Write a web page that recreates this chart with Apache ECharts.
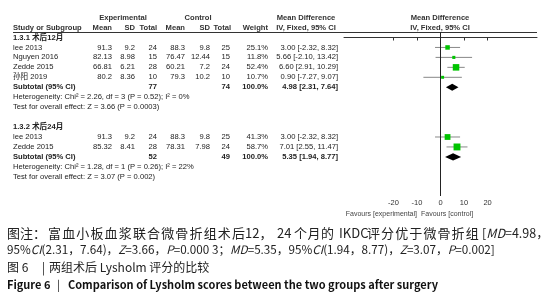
<!DOCTYPE html>
<html>
<head>
<meta charset="utf-8">
<script src="https://cdn.jsdelivr.net/npm/echarts@6/dist/echarts.min.js"></script>
<style>
  html, body { margin: 0; padding: 0; background: #fff; }
  #main { width: 548px; height: 300px; }
</style>
</head>
<body>
<div id="main"></div>
<script>
  // 1.3.1 术后12月
  const studies12 = ['lee 2013', 'Nguyen 2016', 'Zedde 2015', '孙阳 2019'];
  const expMean12 = [91.3, 82.13, 66.81, 80.2];
  const expSD12 = [9.2, 8.98, 6.21, 8.36];
  const expN12 = [24, 15, 28, 10];
  const ctlMean12 = [88.3, 76.47, 60.21, 79.3];
  const ctlSD12 = [9.8, 12.44, 7.2, 10.2];
  const ctlN12 = [25, 15, 24, 10];
  const weight12 = [25.1, 11.8, 52.4, 10.7];
  const md12 = [3.00, 5.66, 6.60, 0.90];
  const lo12 = [-2.32, -2.10, 2.91, -7.27];
  const hi12 = [8.32, 13.42, 10.29, 9.07];
  const total12 = [77, 74];
  const sub12 = [4.98, 2.31, 7.64];

  // 1.3.2 术后24月
  const studies24 = ['lee 2013', 'Zedde 2015'];
  const expMean24 = [91.3, 85.32];
  const expSD24 = [9.2, 8.41];
  const expN24 = [24, 28];
  const ctlMean24 = [88.3, 78.31];
  const ctlSD24 = [9.8, 7.98];
  const ctlN24 = [25, 24];
  const weight24 = [41.3, 58.7];
  const md24 = [3.00, 7.01];
  const lo24 = [-2.32, 2.55];
  const hi24 = [8.32, 11.47];
  const total24 = [52, 49];
  const sub24 = [5.35, 1.94, 8.77];

  const xTicks = [-20, -10, 0, 10, 20];

  let chart = echarts.init(document.getElementById('main'));

  const FONT = '7.6px "Liberation Sans", Arial, "Noto Sans CJK SC", sans-serif';
  const BOLD = 'bold ' + FONT;
  const CAP = '13px "Noto Sans CJK SC", sans-serif';
  const CAP2 = '11.7px "Noto Sans CJK SC", sans-serif';
  const CAP3 = '12px "Noto Sans CJK SC", sans-serif';
  const FIG = '11px "Noto Sans CJK SC", sans-serif';

  // rows: 0 title, 1-4 studies, 5 subtotal, 6-7 notes, 9 title, 10-11 studies, 12 subtotal, 13-14 notes
  let studyData = [];
  md12.forEach((m, i) => studyData.push([1 + i, m, lo12[i], hi12[i], 0.9 * Math.sqrt(weight12[i])]));
  md24.forEach((m, i) => studyData.push([10 + i, m, lo24[i], hi24[i], 0.9 * Math.sqrt(weight24[i])]));
  let diamondData = [[5].concat(sub12), [12].concat(sub24)];

  chart.setOption({
    animation: false,
    grid: { left: 344, right: 11, top: 32, bottom: 104 },
    xAxis: {
      type: 'value',
      min: -41,
      max: 41,
      splitLine: { show: false },
      axisLine: { lineStyle: { color: '#333', width: 1 } },
      axisTick: { customValues: xTicks, length: 3, lineStyle: { color: '#333' } },
      axisLabel: { customValues: xTicks, fontSize: 7.5, color: '#333', margin: 3, fontFamily: '"Liberation Sans", Arial' }
    },
    yAxis: {
      type: 'value',
      inverse: true,
      min: -0.553,
      max: 15.93,
      show: false
    },
    series: [{
      type: 'custom',
      clip: false,
      data: studyData,
      renderItem: function (params, api) {
        let row = api.value(0);
        let p = api.coord([api.value(1), row]);
        let pl = api.coord([api.value(2), row]);
        let ph = api.coord([api.value(3), row]);
        let sz = api.value(4);
        return {
          type: 'group',
          children: [
            { type: 'line', shape: { x1: pl[0], y1: p[1], x2: ph[0], y2: p[1] }, style: { stroke: '#888', lineWidth: 1 } },
            { type: 'rect', shape: { x: p[0] - sz / 2, y: p[1] - sz / 2, width: sz, height: sz }, style: { fill: '#00c400' } }
          ]
        };
      },
      markLine: {
        silent: true,
        symbol: 'none',
        label: { show: false },
        lineStyle: { color: '#222', width: 1, type: 'solid' },
        data: [{ xAxis: 0 }]
      }
    }, {
      type: 'custom',
      clip: false,
      data: diamondData,
      renderItem: function (params, api) {
        let row = api.value(0);
        let a = api.coord([api.value(2), row]);
        let b = api.coord([api.value(1), row - 0.36]);
        let c = api.coord([api.value(3), row]);
        let d = api.coord([api.value(1), row + 0.36]);
        return { type: 'polygon', shape: { points: [a, b, c, d] }, style: { fill: '#000' } };
      }
    }]
  });

  function yOf(r) {
    return chart.convertToPixel({ yAxisIndex: 0 }, r);
  }
  function txt(x, y, s, align, font, fill) {
    return {
      type: 'text', x: x, y: y, silent: true,
      style: { text: s, font: font || FONT, fill: fill || '#222', textAlign: align || 'left', textVerticalAlign: 'middle' }
    };
  }
  function ci(m, l, h) {
    return m.toFixed(2) + ' [' + l.toFixed(2) + ', ' + h.toFixed(2) + ']';
  }

  let els = [];
  // header
  els.push(txt(123, 18, 'Experimental', 'center', BOLD, '#333'));
  els.push(txt(198, 18, 'Control', 'center', BOLD, '#333'));
  els.push(txt(306, 18, 'Mean Difference', 'center', BOLD, '#333'));
  els.push(txt(306, 28, 'IV, Fixed, 95% CI', 'center', BOLD, '#333'));
  els.push(txt(440, 18, 'Mean Difference', 'center', BOLD, '#333'));
  els.push(txt(440, 28, 'IV, Fixed, 95% CI', 'center', BOLD, '#333'));
  els.push(txt(13, 28, 'Study or Subgroup', 'left', BOLD, '#333'));
  [[112, 'Mean'], [135, 'SD'], [157, 'Total'], [185, 'Mean'], [210, 'SD'], [231, 'Total'], [268, 'Weight']].forEach(h => {
    els.push(txt(h[0], 28, h[1], 'right', BOLD, '#333'));
  });
  els.push({ type: 'line', silent: true, shape: { x1: 13, y1: 32.5, x2: 537, y2: 32.5 }, style: { stroke: '#333', lineWidth: 1 } });

  function studyRow(r, name, em, es, en, cm, cs, cn, w, m, l, h) {
    let y = yOf(r);
    els.push(txt(13, y, name));
    els.push(txt(112, y, String(em), 'right'));
    els.push(txt(135, y, String(es), 'right'));
    els.push(txt(157, y, String(en), 'right'));
    els.push(txt(185, y, String(cm), 'right'));
    els.push(txt(210, y, String(cs), 'right'));
    els.push(txt(230, y, String(cn), 'right'));
    els.push(txt(268, y, w.toFixed(1) + '%', 'right'));
    els.push(txt(338, y, ci(m, l, h), 'right'));
  }
  function subRow(r, tot, sub) {
    let y = yOf(r);
    els.push(txt(13, y, 'Subtotal (95% CI)', 'left', BOLD));
    els.push(txt(157, y, String(tot[0]), 'right', BOLD));
    els.push(txt(230, y, String(tot[1]), 'right', BOLD));
    els.push(txt(268, y, '100.0%', 'right', BOLD));
    els.push(txt(338, y, ci(sub[0], sub[1], sub[2]), 'right', BOLD));
  }

  els.push(txt(13, yOf(0), '1.3.1 术后12月', 'left', BOLD));
  studies12.forEach((s, i) => studyRow(1 + i, s, expMean12[i], expSD12[i], expN12[i], ctlMean12[i], ctlSD12[i], ctlN12[i], weight12[i], md12[i], lo12[i], hi12[i]));
  subRow(5, total12, sub12);
  els.push(txt(13, yOf(6), 'Heterogeneity: Chi² = 2.26, df = 3 (P = 0.52); I² = 0%'));
  els.push(txt(13, yOf(7), 'Test for overall effect: Z = 3.66 (P = 0.0003)'));

  els.push(txt(13, yOf(9), '1.3.2 术后24月', 'left', BOLD));
  studies24.forEach((s, i) => studyRow(10 + i, s, expMean24[i], expSD24[i], expN24[i], ctlMean24[i], ctlSD24[i], ctlN24[i], weight24[i], md24[i], lo24[i], hi24[i]));
  subRow(12, total24, sub24);
  els.push(txt(13, yOf(13), 'Heterogeneity: Chi² = 1.28, df = 1 (P = 0.26); I² = 22%'));
  els.push(txt(13, yOf(14), 'Test for overall effect: Z = 3.07 (P = 0.002)'));

  els.push(txt(417, 214, 'Favours [experimental]', 'right', '7px "Liberation Sans", Arial', '#444'));
  els.push(txt(421, 214, 'Favours [control]', 'left', '7px "Liberation Sans", Arial', '#444'));

  // caption
  function spread(x0, y, s, pitch) {
    for (let k = 0; k < s.length; k++) els.push(txt(x0 + k * pitch, y, s[k], 'left', CAP, '#222'));
  }
  const capY = [233, 250, 267, 285];
  els.push(txt(7, capY[0], '图注：', 'left', CAP, '#222'));
  spread(48, capY[0], '富血小板血浆联合微骨折组术后', 14.15);
  els.push(txt(245, capY[0], '12，', 'left', CAP, '#222'));
  els.push(txt(277, capY[0], '24', 'left', CAP, '#222'));
  spread(294, capY[0], '个月的', 13.5);
  els.push(txt(339, capY[0], 'IKDC', 'left', CAP, '#222'));
  spread(367, capY[0], '评分优于微骨折组', 14.1);
  els.push({
    type: 'text', x: 482, y: capY[0], silent: true,
    style: {
      text: '[{i|MD}=4.98，', font: '12.5px "Noto Sans CJK SC", sans-serif', fill: '#222', textVerticalAlign: 'middle',
      rich: { i: { font: 'italic 12.5px "Noto Sans CJK SC", sans-serif', fill: '#222' } }
    }
  });
  els.push({
    type: 'text', x: 7, y: capY[1], silent: true,
    style: {
      text: '95%{i|CI}(2.31，7.64)，{i|Z}=3.66，{i|P}=0.000 3；{i|MD}=5.35，95%{i|CI}(1.94，8.77)，{i|Z}=3.07，{i|P}=0.002]',
      font: CAP2, fill: '#222', textVerticalAlign: 'middle',
      rich: { i: { font: 'italic ' + CAP2, fill: '#222' } }
    }
  });
  els.push(txt(7, capY[2], '图 6', 'left', CAP3, '#222'));
  els.push(txt(42, capY[2], '|', 'left', CAP3, '#222'));
  els.push(txt(49, capY[2], '两组术后 Lysholm 评分的比较', 'left', CAP3, '#222'));
  els.push(txt(7, capY[3], 'Figure 6', 'left', 'bold ' + FIG, '#111'));
  els.push(txt(57, capY[3], '|', 'left', FIG, '#111'));
  els.push(txt(68, capY[3], 'Comparison of Lysholm scores between the two groups after surgery', 'left', 'bold ' + FIG, '#111'));

  chart.setOption({ graphic: els });
</script>
</body>
</html>
